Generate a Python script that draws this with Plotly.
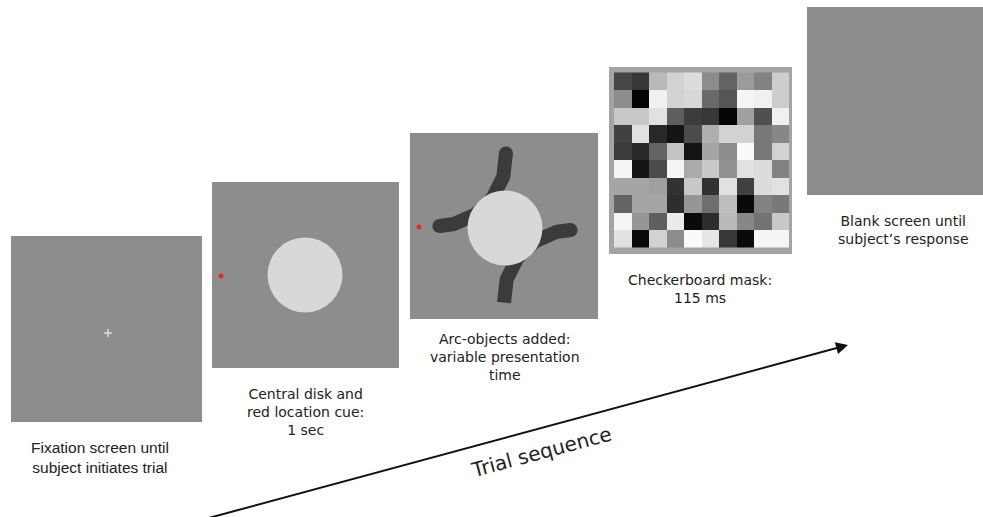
import numpy as np
import plotly.graph_objects as go

W, H = 983, 517

# ---- data ----
panel_labels = [
    "Fixation screen until<br>subject initiates trial",
    "Central disk and<br>red location cue:<br>1 sec",
    "Arc-objects added:<br>variable presentation<br>time",
    "Checkerboard mask:<br>115 ms",
    "Blank screen until<br>subject\u2019s response",
]
arrow_label = "Trial sequence"

# checkerboard mask gray levels (0 = black, 255 = white), 10 x 10
mask_rows = [
    [70, 55, 185, 210, 220, 140, 100, 155, 130, 205],
    [140, 5, 240, 210, 215, 105, 85, 245, 240, 205],
    [200, 200, 225, 95, 60, 55, 5, 160, 80, 240],
    [65, 225, 40, 20, 75, 175, 210, 210, 120, 135],
    [60, 40, 100, 195, 20, 165, 140, 250, 120, 210],
    [245, 20, 75, 245, 170, 200, 145, 225, 220, 130],
    [165, 165, 160, 50, 200, 50, 225, 65, 220, 225],
    [100, 165, 165, 45, 150, 110, 190, 10, 130, 120],
    [245, 150, 95, 235, 10, 45, 185, 135, 115, 200],
    [225, 10, 210, 140, 250, 230, 55, 10, 245, 245],
]

# ---- styling / geometry ----
GRAY = "#8d8d8d"
DISK = "#d8d8d8"
ARC = "#3b3b3b"
RED = "#e8281e"
TXT = "#222222"

panels = [  # x0, y0, x1, y1 (pixels, y down)
    (11, 236, 202, 422),
    (212, 182, 399, 368),
    (410, 133, 598, 319),
    (609, 67, 792, 254),
    (807, 7, 990, 195),
]

fig = go.Figure()
shapes = []

for i, (x0, y0, x1, y1) in enumerate(panels):
    col = "#a4a4a4" if i == 3 else GRAY
    shapes.append(dict(type="rect", x0=x0, y0=y0, x1=x1, y1=y1, fillcolor=col,
                       line=dict(width=0), layer="below"))

# fixation cross
cx, cy = 108, 333
shapes.append(dict(type="line", x0=cx - 4, x1=cx + 4, y0=cy, y1=cy, line=dict(color="#e6e6e6", width=1.3), layer="above"))
shapes.append(dict(type="line", x0=cx, x1=cx, y0=cy - 4, y1=cy + 4, line=dict(color="#e6e6e6", width=1.3), layer="above"))

# panel 2: disk + red cue
shapes.append(dict(type="circle", x0=305 - 37.5, x1=305 + 37.5, y0=275 - 37.5, y1=275 + 37.5,
                   fillcolor=DISK, line=dict(width=0), layer="above"))
shapes.append(dict(type="circle", x0=221 - 2.5, x1=221 + 2.5, y0=276 - 2.5, y1=276 + 2.5,
                   fillcolor=RED, line=dict(width=0), layer="above"))

# panel 3: arcs, disk, red cue
def arc(cxa, cya, r, a0, a1):
    t = np.radians(np.linspace(a0, a1, 60))
    return cxa + r * np.cos(t), cya + r * np.sin(t)

for (cxa, cya, a0, a1, caps) in [(437, 157, -3, 88, (True, True)), (573, 299, 177, 268, (False, True))]:
    xs, ys = arc(cxa, cya, 69, a0, a1)
    fig.add_trace(go.Scatter(x=xs, y=ys, mode="lines", line=dict(color=ARC, width=14),
                             hoverinfo="skip", showlegend=False))
    ex, ey = [], []
    if caps[0]:
        ex.append(xs[0]); ey.append(ys[0])
    if caps[1]:
        ex.append(xs[-1]); ey.append(ys[-1])
    fig.add_trace(go.Scatter(x=ex, y=ey, mode="markers", marker=dict(color=ARC, size=14, line=dict(width=0)),
                             hoverinfo="skip", showlegend=False))

shapes.append(dict(type="circle", x0=505 - 37.5, x1=505 + 37.5, y0=228 - 37.5, y1=228 + 37.5,
                   fillcolor=DISK, line=dict(width=0), layer="above"))
shapes.append(dict(type="circle", x0=419 - 2.5, x1=419 + 2.5, y0=227 - 2.5, y1=227 + 2.5,
                   fillcolor=RED, line=dict(width=0), layer="above"))

# panel 4: checkerboard
gx0, gy0, cell = 614, 72.5, 17.45
fig.add_trace(go.Heatmap(z=mask_rows, x0=gx0 + cell / 2, dx=cell, y0=gy0 + cell / 2, dy=cell,
                         colorscale=[[0, "black"], [1, "white"]], zmin=0, zmax=255,
                         showscale=False, hoverinfo="skip", zsmooth=False))

# labels
label_pos = [(100, 457, "Liberation Sans", 15.5), (305, 412, "DejaVu Sans", 14),
             (505, 357, "DejaVu Sans", 14), (700, 289, "DejaVu Sans", 14),
             (903, 230, "DejaVu Sans", 14)]
ann = []
for lab, (x, y, fam, sz) in zip(panel_labels, label_pos):
    ann.append(dict(x=x, y=y, text=lab, showarrow=False, xanchor="center", yanchor="middle",
                    font=dict(family=fam, size=sz, color=TXT), align="center"))

# arrow
ann.append(dict(x=848, y=345, ax=205, ay=519, xref="x", yref="y", axref="x", ayref="y",
                showarrow=True, arrowhead=2, arrowsize=1.2, arrowwidth=2, arrowcolor="#111111", text=""))
ann.append(dict(x=541, y=452, text=arrow_label, showarrow=False, textangle=-15,
                font=dict(family="DejaVu Sans", size=20, color=TXT)))

fig.update_layout(
    width=W, height=H, margin=dict(l=0, r=0, t=0, b=0),
    paper_bgcolor="white", plot_bgcolor="white",
    xaxis=dict(range=[0, W], visible=False, fixedrange=True),
    yaxis=dict(range=[H, 0], visible=False, fixedrange=True),
    shapes=shapes, annotations=ann, showlegend=False,
)

fig.write_html("out.html", config={"displayModeBar": False},
               post_script="document.body.style.margin='0';document.body.style.overflow='hidden';")
